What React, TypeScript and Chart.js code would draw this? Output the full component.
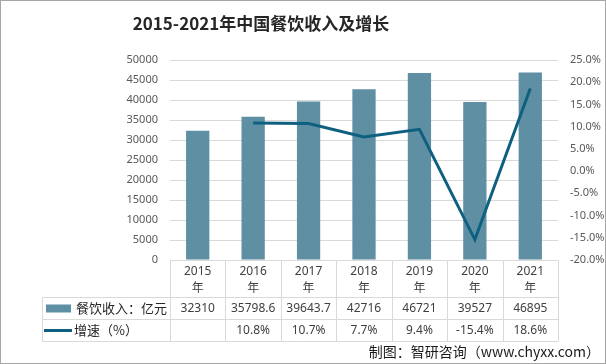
import React, { useEffect, useRef } from "react";
import { Chart, registerables } from "chart.js";

Chart.register(...registerables);

const TITLE = "2015-2021年中国餐饮收入及增长";
const categories = ["2015", "2016", "2017", "2018", "2019", "2020", "2021"];
const yearSuffix = "年";
const revenueLabel = "餐饮收入：亿元";
const growthLabel = "增速（%）";
const revenue = [32310, 35798.6, 39643.7, 42716, 46721, 39527, 46895];
const revenueText = ["32310", "35798.6", "39643.7", "42716", "46721", "39527", "46895"];
const growth: (number | null)[] = [null, 10.8, 10.7, 7.7, 9.4, -15.4, 18.6];
const leftAxis = { min: 0, max: 50000, step: 5000 };
const rightAxis = { min: -20, max: 25, step: 5 };
const SOURCE = "制图：智研咨询（www.chyxx.com）";

const BAR_COLOR = "#5e8fa3";
const LINE_COLOR = "#0f6080";
const GRID = "#d9d9d9";
const TEXT = "#404040";
const AXIS_TEXT = "#595959";
const FONT = "'Noto Sans', 'Noto Sans CJK SC', sans-serif";
const CJK = "'Noto Sans CJK SC', 'Noto Sans', sans-serif";

const tablePlugin = {
  id: "tablePlugin",
  beforeDraw(chart: any) {
    const ctx = chart.ctx;
    ctx.save();
    ctx.fillStyle = "#ffffff";
    ctx.fillRect(0, 0, chart.width, chart.height);
    ctx.restore();
  },
  afterDraw(chart: any) {
    const ctx = chart.ctx;
    const area = chart.chartArea;
    const x = chart.scales.x;
    const n = categories.length;
    const colW = (area.right - area.left) / n;
    const top = Math.round(area.bottom) + 0.5;
    const r1 = top + 37;
    const r2 = r1 + 22;
    const r3 = r2 + 22;
    const tableLeft = 42.5;
    ctx.save();
    ctx.strokeStyle = GRID;
    ctx.lineWidth = 1;
    ctx.beginPath();
    ctx.moveTo(area.left, top);
    ctx.lineTo(area.right, top);
    [r1, r2, r3].forEach((y) => {
      ctx.moveTo(tableLeft, y);
      ctx.lineTo(area.right, y);
    });
    for (let i = 0; i <= n; i++) {
      const xx = Math.round(area.left + i * colW) + 0.5;
      ctx.moveTo(xx, top);
      ctx.lineTo(xx, r3);
    }
    ctx.moveTo(tableLeft, r1);
    ctx.lineTo(tableLeft, r3);
    ctx.stroke();

    ctx.fillStyle = TEXT;
    ctx.textAlign = "center";
    ctx.textBaseline = "middle";
    categories.forEach((c, i) => {
      const cx = x.getPixelForValue(i);
      ctx.font = `12px ${FONT}`;
      ctx.fillText(c, cx, top + 11);
      ctx.font = `12px ${CJK}`;
      ctx.fillText(yearSuffix, cx, top + 27);
      ctx.font = `12px ${FONT}`;
      ctx.fillText(revenueText[i], cx, (r1 + r2) / 2);
      const g = growth[i];
      if (g !== null) ctx.fillText(g.toFixed(1) + "%", cx, (r2 + r3) / 2);
    });

    ctx.fillStyle = BAR_COLOR;
    ctx.fillRect(46, (r1 + r2) / 2 - 4, 25, 8);
    ctx.strokeStyle = LINE_COLOR;
    ctx.lineWidth = 3;
    ctx.beginPath();
    ctx.moveTo(44, (r2 + r3) / 2);
    ctx.lineTo(72, (r2 + r3) / 2);
    ctx.stroke();
    ctx.fillStyle = "#262626";
    ctx.textAlign = "left";
    ctx.font = `13px ${CJK}`;
    ctx.fillText(revenueLabel, 76, (r1 + r2) / 2);
    ctx.fillText(growthLabel, 74, (r2 + r3) / 2);

    ctx.fillStyle = "#262626";
    ctx.textAlign = "center";
    ctx.font = `bold 17px ${CJK}`;
    ctx.fillText(TITLE, 261, 24);

    ctx.fillStyle = "#1a1a1a";
    ctx.textAlign = "right";
    ctx.font = `14px ${CJK}`;
    ctx.fillText(SOURCE, 600, 352);

    ctx.strokeStyle = "#a6a6a6";
    ctx.lineWidth = 1;
    ctx.strokeRect(0.5, 0.5, chart.width - 1, chart.height - 1);
    ctx.restore();
  },
};

export default function App() {
  const ref = useRef<HTMLCanvasElement>(null);
  useEffect(() => {
    if (!ref.current) return;
    const chart = new Chart(ref.current, {
      type: "bar",
      data: {
        labels: categories,
        datasets: [
          {
            type: "line",
            label: growthLabel,
            data: growth as any,
            yAxisID: "y1",
            borderColor: LINE_COLOR,
            backgroundColor: LINE_COLOR,
            borderWidth: 3,
            pointRadius: 0,
            tension: 0,
            order: 0,
          } as any,
          {
            type: "bar",
            label: revenueLabel,
            data: revenue,
            yAxisID: "y",
            backgroundColor: BAR_COLOR,
            categoryPercentage: 1,
            barPercentage: 0.42,
            order: 1,
          },
        ],
      },
      options: {
        responsive: false,
        animation: false,
        devicePixelRatio: 1,
        layout: { padding: { top: 60, bottom: 104, left: 0, right: 0 } },
        plugins: {
          legend: { display: false },
          title: { display: false },
          tooltip: { enabled: false },
        },
        scales: {
          x: { display: false },
          y: {
            position: "left",
            min: leftAxis.min,
            max: leftAxis.max,
            ticks: {
              stepSize: leftAxis.step,
              color: AXIS_TEXT,
              font: { size: 11, family: FONT },
              padding: 12,
              callback: (v: any) => String(v),
            },
            grid: { color: GRID, drawTicks: false },
            border: { display: false },
            afterFit: (s: any) => {
              s.width = 170;
            },
          },
          y1: {
            position: "right",
            min: rightAxis.min,
            max: rightAxis.max,
            ticks: {
              stepSize: rightAxis.step,
              color: AXIS_TEXT,
              font: { size: 11, family: FONT },
              padding: 12,
              callback: (v: any) => Number(v).toFixed(1) + "%",
            },
            grid: { display: false, drawTicks: false },
            border: { display: false },
            afterFit: (s: any) => {
              s.width = 48;
            },
          },
        },
      },
      plugins: [tablePlugin],
    });
    return () => chart.destroy();
  }, []);
  return (
    <div style={{ position: "fixed", left: 0, top: 0, width: 606, height: 364 }}>
      <canvas ref={ref} width={606} height={364} style={{ width: 606, height: 364 }} />
    </div>
  );
}
